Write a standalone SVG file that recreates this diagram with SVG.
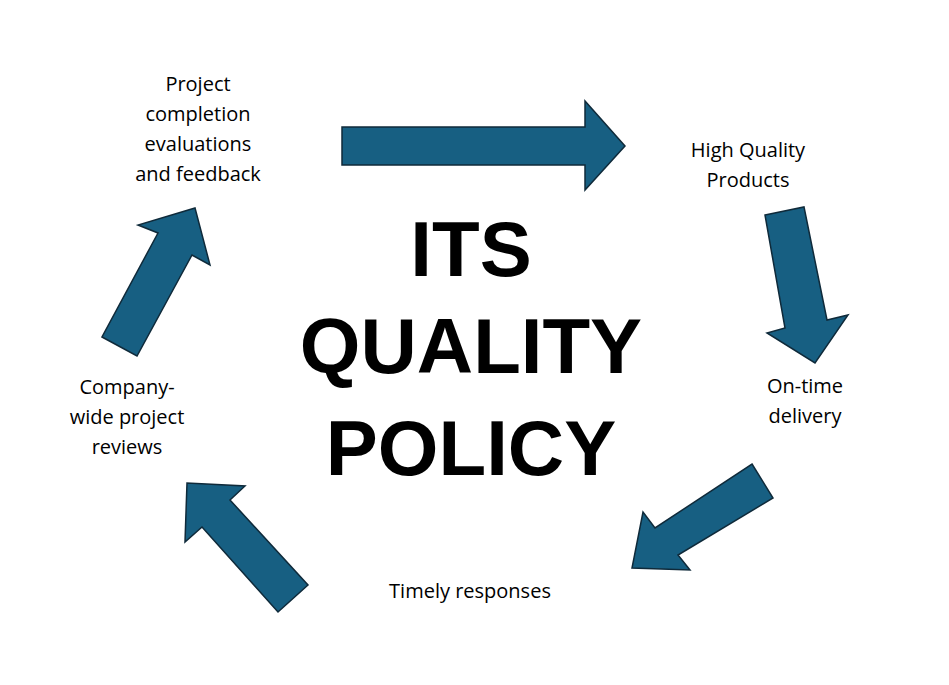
<svg xmlns="http://www.w3.org/2000/svg" width="949" height="685" viewBox="0 0 949 685">
<style>
.a{fill:#175f82;stroke:#0f2a3a;stroke-width:1.5;stroke-linejoin:miter}
.t{font-family:"Open Sans","Liberation Sans",sans-serif;font-size:20px;fill:#000;text-anchor:middle}
.h{font-family:"Liberation Sans",Arial,sans-serif;font-size:78px;font-weight:bold;fill:#000;text-anchor:middle}
</style>
<rect width="949" height="685" fill="#fff"/>
<g id="connectors">
<polygon class="a" points="342,127 585,127 585,101 625,146 585,190 585,165 342,165"/>
<polygon class="a" points="765,215 804,207 827,320 848,315 815,363 767,333 785,328"/>
<polygon class="a" points="752,464 773,498 678,555 690,570 632,568 643,512 655,528"/>
<polygon class="a" points="308,585 278,612 202,527 185,542 187,483 245,486 230,500"/>
<polygon class="a" points="102,337 137,356 192,255 210,265 195,208 138,225 158,233"/>
</g>
<g id="title"><text class="h" x="471" y="276">ITS</text><text class="h" x="471" y="373">QUALITY</text><text class="h" x="471" y="475">POLICY</text></g>
<g id="n1"><text class="t" x="198" y="91">Project</text><text class="t" x="198" y="121">completion</text><text class="t" x="198" y="151">evaluations</text><text class="t" x="198" y="181">and feedback</text></g>
<g id="n2"><text class="t" x="748" y="157">High Quality</text><text class="t" x="748" y="187">Products</text></g>
<g id="n3"><text class="t" x="805" y="393">On-time</text><text class="t" x="805" y="423">delivery</text></g>
<g id="n4"><text class="t" x="470" y="598">Timely responses</text></g>
<g id="n5"><text class="t" x="127" y="394">Company-</text><text class="t" x="127" y="424">wide project</text><text class="t" x="127" y="454">reviews</text></g>
</svg>
